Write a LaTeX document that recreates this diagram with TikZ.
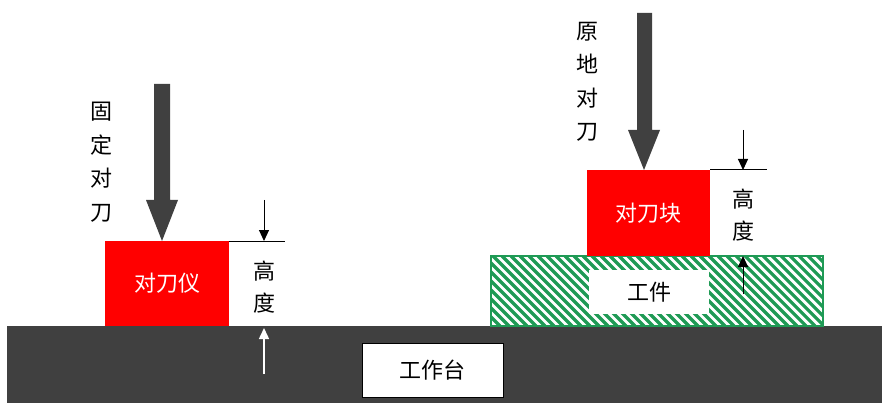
\documentclass[tikz,border=0pt]{standalone}
\usepackage{fontspec}
\newfontfamily\cjk{Noto Sans CJK SC}
\usetikzlibrary{arrows.meta}
\definecolor{tablegray}{HTML}{404040}
\definecolor{arrowgray}{HTML}{404040}
\definecolor{hatchgreen}{HTML}{1F9A55}
\begin{document}
\begin{tikzpicture}[x=1pt,y=-1pt,
  font=\cjk\fontsize{22}{26}\selectfont,
  box/.style={inner sep=0pt, outer sep=0pt, anchor=north west},
  vlabel/.style={align=center, inner sep=0pt, font=\cjk\fontsize{22}{33.5}\selectfont},
  hlabel/.style={align=center, inner sep=0pt, font=\cjk\fontsize{22}{32}\selectfont},
  dimarrow/.style={line width=1pt, -{Triangle[width=10pt,length=11pt]}},
  dimline/.style={line width=1pt},
  bigarrow/.style={fill=arrowgray}]
\useasboundingbox (0,0) rectangle (882,403);
% table
\node[box, fill=tablegray, minimum width=875pt, minimum height=77pt] (table) at (7,326) {};
\node[box, fill=white, draw=black, line width=1pt, minimum width=141pt, minimum height=54pt] (tablelabel) at (362,343) {工作台};
% left gauge
\node[box, fill=red, text=white, minimum width=124pt, minimum height=85pt] (gauge) at (105,241) {对刀仪};
% workpiece
\node[box, minimum width=332pt, minimum height=70pt] (work) at (491,256) {};
\begin{scope}
  \clip (work.north west) rectangle (work.south east);
  \foreach \i in {0,...,46} {
    \draw[hatchgreen, line width=3.2pt] ({421+\i*9},256) -- ++(70,70);
  }
\end{scope}
\draw[hatchgreen, line width=1.5pt] (work.north west) rectangle (work.south east);
\node[box, fill=white, minimum width=120pt, minimum height=44pt] (worklabel) at (589,270) {工件};
% setter block
\node[box, fill=red, text=white, minimum width=123pt, minimum height=86pt] (block) at (587,170) {对刀块};
% big arrows
\fill[bigarrow] (154,84) -- (170,84) -- (170,200) -- (178,200) -- (162,241) -- (146,200) -- (154,200) -- cycle;
\fill[bigarrow] (637,13) -- (652,13) -- (652,130) -- (660,130) -- (644,170) -- (628,130) -- (637,130) -- cycle;
% vertical titles
\node[vlabel] (lefttitle) at (101,162) {固\\定\\对\\刀};
\node[vlabel] (righttitle) at (587,82) {原\\地\\对\\刀};
% left height dimension
\coordinate (lineL) at (285,241);
\draw[dimline] (gauge.north east) -- (lineL);
\coordinate (ldTop) at (264,200);
\coordinate (ldTip) at (264,241);
\draw[dimarrow] (ldTop) -- (ldTip);
\node[hlabel] (leftheight) at (264,287) {高\\度};
\coordinate (luTail) at (264,374);
\coordinate (luTip) at (264,328);
\draw[dimarrow, white, line width=1.5pt] (luTail) -- (luTip);
% right height dimension
\coordinate (lineR) at (767,170);
\draw[dimline] (block.north east) -- (lineR);
\coordinate (rdTop) at (743,130);
\coordinate (rdTip) at (743,170);
\draw[dimarrow] (rdTop) -- (rdTip);
\node[hlabel] (rightheight) at (743,215) {高\\度};
\coordinate (ruTail) at (743,294);
\coordinate (ruTip) at (743,256);
\draw[dimarrow] (ruTail) -- (ruTip);
\end{tikzpicture}
\end{document}
